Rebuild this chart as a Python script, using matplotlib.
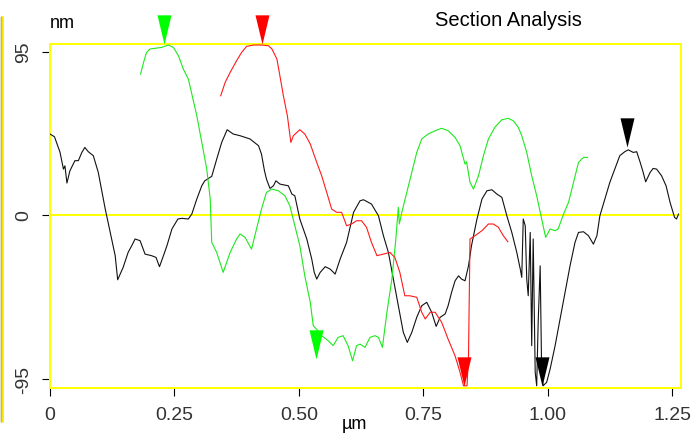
import numpy as np
import matplotlib
matplotlib.use("Agg")
import matplotlib.pyplot as plt
from matplotlib.path import Path
from matplotlib.lines import Line2D

plt.rcParams['font.family'] = ['Liberation Sans', 'DejaVu Sans']

# section profiles, x in um, height in nm
black_x = [0.000, 0.009, 0.020, 0.027, 0.030, 0.034, 0.040, 0.050, 0.057, 0.064, 0.070, 0.077, 0.087,
           0.097, 0.111, 0.121, 0.131, 0.136, 0.147, 0.157, 0.165, 0.171, 0.181, 0.191, 0.204, 0.213,
           0.220, 0.228, 0.235, 0.245, 0.257, 0.265, 0.278, 0.285, 0.295, 0.305, 0.311, 0.325, 0.335,
           0.345, 0.356, 0.368, 0.382, 0.402, 0.419, 0.425, 0.431, 0.435, 0.442, 0.449, 0.454, 0.462,
           0.479, 0.486, 0.492, 0.502, 0.516, 0.526, 0.531, 0.536, 0.543, 0.553, 0.563, 0.573, 0.583,
           0.596, 0.610, 0.623, 0.630, 0.646, 0.660, 0.670, 0.680, 0.690, 0.700, 0.710, 0.718, 0.727,
           0.737, 0.747, 0.757, 0.767, 0.776, 0.784, 0.794, 0.800, 0.807, 0.814, 0.821, 0.827, 0.834,
           0.841, 0.847, 0.858, 0.868, 0.878, 0.888, 0.898, 0.908, 0.918, 0.928, 0.938, 0.945, 0.948,
           0.951, 0.955, 0.958, 0.961, 0.965, 0.968, 0.971, 0.975, 0.978, 0.981, 0.985, 0.988, 0.991,
           0.998, 1.005, 1.015, 1.025, 1.035, 1.045, 1.055, 1.062, 1.072, 1.082, 1.092, 1.099, 1.105,
           1.115, 1.125, 1.135, 1.145, 1.155, 1.162, 1.172, 1.179, 1.186, 1.192, 1.197, 1.206, 1.212,
           1.219, 1.229, 1.238, 1.246, 1.255, 1.259, 1.263]
black_y = [47.1, 45.5, 36.6, 26.7, 28.6, 18.6, 25.7, 31.6, 31.6, 36.4, 39.3, 36.8, 34.5,
           24.8, 3.5, -9.9, -23.6, -37.6, -30.4, -21.7, -17.4, -13.9, -14.9, -22.7, -23.6, -24.6,
           -30.0, -23.6, -17.8, -8.1, -2.3, -1.9, -2.3, 0.6, 9.3, 17.0, 19.9, 22.5, 32.5,
           42.2, 49.6, 47.1, 46.1, 44.2, 40.3, 35.4, 25.7, 20.9, 15.5, 17.0, 19.9, 18.0,
           17.0, 12.2, 11.2, -2.3, -13.9, -25.6, -33.3, -37.2, -33.3, -30.0, -31.4, -34.3, -25.6,
           -15.9, 1.6, 8.3, 8.9, 6.4, -0.4, -12.0, -21.7, -37.2, -52.7, -68.2, -74.0, -68.2,
           -59.4, -52.7, -50.7, -56.5, -64.7, -59.4, -57.5, -52.7, -44.9, -38.2, -35.3, -37.2, -38.2,
           -29.5, -17.8, -2.3, 9.3, 14.1, 14.7, 12.2, 10.3, -0.4, -10.1, -21.7, -31.4, -36.2,
           -2.3, -6.2, -37.2, -46.9, -10.1, -75.9, -13.9, -91.4, -99.2, -62.3, -29.5, -91.4, -99.2,
           -97.2, -89.5, -75.9, -60.4, -44.9, -29.5, -15.9, -10.1, -9.7, -12.0, -16.9, -12.0, -0.4,
           9.3, 19.0, 26.7, 34.5, 36.8, 37.9, 36.4, 36.8, 30.6, 24.8, 19.3, 24.8, 27.1,
           26.7, 22.8, 17.0, 7.4, -1.3, -2.3, 0.6]

green_x = [0.182, 0.188, 0.194, 0.201, 0.211, 0.224, 0.238, 0.248, 0.258, 0.268, 0.278, 0.285, 0.295,
           0.305, 0.315, 0.322, 0.325, 0.335, 0.348, 0.362, 0.375, 0.382, 0.392, 0.405, 0.415, 0.425,
           0.435, 0.446, 0.459, 0.472, 0.482, 0.492, 0.502, 0.512, 0.523, 0.529, 0.539, 0.546, 0.559,
           0.569, 0.579, 0.589, 0.599, 0.608, 0.616, 0.623, 0.633, 0.643, 0.653, 0.660, 0.668, 0.677,
           0.687, 0.695, 0.700, 0.702, 0.707, 0.717, 0.727, 0.737, 0.747, 0.760, 0.774, 0.787, 0.800,
           0.814, 0.824, 0.834, 0.837, 0.844, 0.851, 0.861, 0.871, 0.881, 0.894, 0.908, 0.921, 0.931,
           0.941, 0.948, 0.958, 0.968, 0.978, 0.988, 0.996, 1.005, 1.015, 1.021, 1.032, 1.042, 1.052,
           1.062, 1.072, 1.080]
green_y = [81.9, 88.7, 94.5, 96.5, 96.9, 97.4, 98.8, 97.4, 92.6, 84.8, 79.0, 70.3, 57.7,
           42.2, 26.7, 9.3, -15.9, -21.7, -33.3, -21.7, -13.9, -11.0, -13.0, -19.8, -8.1, 3.5,
           13.2, 15.1, 14.1, 11.2, 5.4, -6.2, -17.8, -35.3, -50.7, -64.3, -67.4, -70.1, -73.0,
           -75.9, -71.1, -70.1, -75.9, -84.7, -75.9, -75.0, -76.9, -71.1, -70.1, -71.1, -76.9, -56.5,
           -37.2, -13.9, 4.5, -5.2, 1.6, 13.2, 24.8, 36.4, 44.2, 47.1, 49.0, 50.4, 49.0,
           45.1, 40.3, 29.6, 31.0, 19.0, 15.1, 22.8, 34.5, 44.2, 51.0, 55.4, 56.2, 54.8,
           51.0, 46.1, 36.4, 22.8, 11.2, -2.3, -13.0, -8.1, -9.1, -8.1, 0.6, 7.4, 19.0,
           30.6, 33.5, 33.5]

red_x = [0.343, 0.352, 0.362, 0.375, 0.385, 0.395, 0.409, 0.425, 0.439, 0.446, 0.456, 0.462, 0.469,
         0.477, 0.484, 0.489, 0.502, 0.512, 0.523, 0.536, 0.546, 0.556, 0.566, 0.576, 0.586, 0.596,
         0.606, 0.616, 0.626, 0.636, 0.646, 0.657, 0.670, 0.683, 0.693, 0.703, 0.713, 0.723, 0.737,
         0.747, 0.754, 0.764, 0.774, 0.787, 0.800, 0.814, 0.824, 0.831, 0.838, 0.841, 0.844, 0.854,
         0.868, 0.881, 0.891, 0.901, 0.911, 0.920]
red_y = [69.3, 77.1, 82.9, 89.7, 94.5, 98.0, 98.8, 98.8, 98.4, 96.5, 90.6, 80.9, 69.3,
         57.7, 42.2, 46.1, 49.6, 47.1, 41.3, 30.6, 22.8, 13.2, 3.5, 1.6, 1.6, -6.2,
         -5.2, -3.3, -3.3, -7.1, -15.9, -23.6, -22.7, -21.7, -24.6, -33.3, -46.9, -46.9, -47.8,
         -56.5, -60.4, -56.5, -56.5, -62.3, -72.1, -81.8, -91.4, -99.2, -99.2, -81.8, -13.9, -12.0,
         -9.1, -5.2, -5.2, -7.1, -12.0, -15.5]

# cursor markers (tip position)
cursor_x = [0.229, 0.426, 1.160, 0.535, 0.832, 0.989]
cursor_y = [99.4, 99.4, 39.5, -83.7, -99.4, -99.4]
cursor_c = ['#00ff00', '#ff0000', '#000000', '#00ff00', '#ff0000', '#000000']

xticks = [0, 0.25, 0.50, 0.75, 1.00, 1.25]
xlabels = ['0', '0.25', '0.50', '0.75', '1.00', '1.25']
yticks = [-95, 0, 95]
ylabels = ['-95', '0', '95']

yellow = '#ffff00'

fig = plt.figure(figsize=(6.92, 4.35), dpi=100)
ax = fig.add_axes([50/692, 46/435, 631/692, 344/435])

ax.axhline(0, color=yellow, lw=1.4, zorder=1)
ax.plot(black_x, black_y, color='#111111', lw=0.8, zorder=3)
ax.plot(green_x, green_y, color='#1ee81e', lw=0.8, zorder=3)
ax.plot(red_x, red_y, color='#ff1a1a', lw=0.8, zorder=3)

# narrow down-pointing triangle, tip at the data point
tri = Path([(-0.24, 1.0), (0.24, 1.0), (0.0, 0.0), (-0.24, 1.0)],
           [Path.MOVETO, Path.LINETO, Path.LINETO, Path.CLOSEPOLY])
for cx, cy, cc in zip(cursor_x, cursor_y, cursor_c):
    ax.plot([cx], [cy], marker=tri, markersize=42, color=cc, markeredgewidth=0,
            linestyle='none', clip_on=False, zorder=4)

ax.set_xlim(0, 1.268)
ax.set_ylim(-100.5, 99.4)
for s in ax.spines.values():
    s.set_color(yellow)
    s.set_linewidth(1.4)

ax.set_xticks(xticks)
ax.set_xticklabels(xlabels)
ax.set_yticks(yticks)
ax.set_yticklabels(ylabels, rotation=90, va='center')
ax.tick_params(axis='both', direction='out', color='black', width=0.8, length=6,
               pad=7, labelsize=14, labelcolor='#333333')

fig.text(50/692, 1 - 24/435, 'nm', fontsize=13, va='center', ha='left')
fig.text(354/692, 1 - 425/435, 'µm', fontsize=13, va='center', ha='center')
fig.text(508/692, 1 - 20/435, 'Section Analysis', fontsize=14.5, va='center', ha='center')

# yellow bar on the left edge of the window
fig.add_artist(Line2D([0.5/692, 0.5/692], [1 - 18/435, 1 - 422/435], color='#7a5a00', lw=1.0))
fig.add_artist(Line2D([2.2/692, 2.2/692], [1 - 18/435, 1 - 422/435], color='#f5e600', lw=1.8))

fig.savefig('out.png', dpi=100)
